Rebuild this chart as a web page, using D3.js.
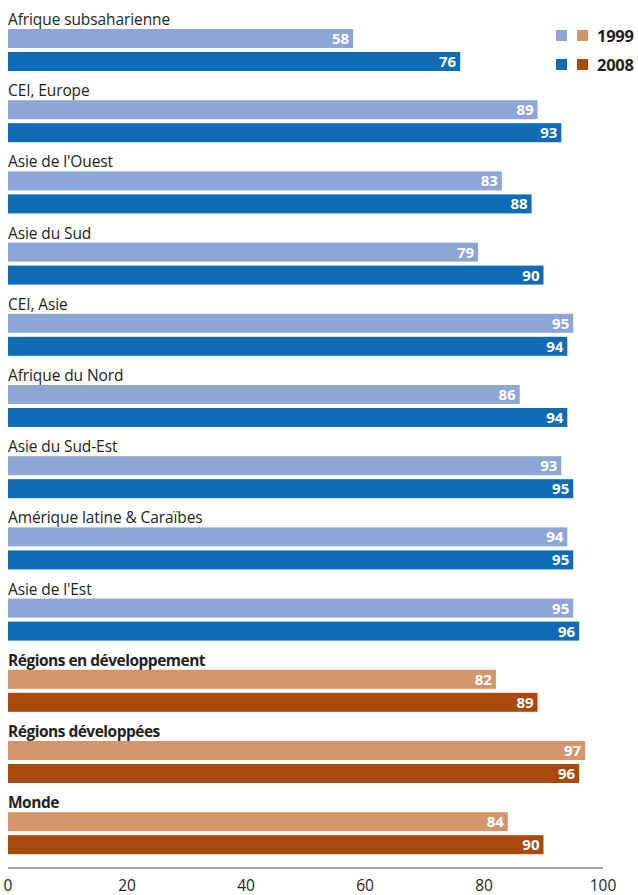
<!DOCTYPE html>
<html>
<head>
<meta charset="utf-8">
<script src="https://cdn.jsdelivr.net/npm/d3@7"></script>
<style>
  body { margin: 0; background: #fff; }
  text { font-family: "Open Sans", "Noto Sans", sans-serif; }
</style>
</head>
<body>
<div id="chart"></div>
<script>
var regions = ["Afrique subsaharienne", "CEI, Europe", "Asie de l'Ouest", "Asie du Sud", "CEI, Asie",
  "Afrique du Nord", "Asie du Sud-Est", "Amérique latine & Caraïbes", "Asie de l'Est",
  "Régions en développement", "Régions développées", "Monde"];
var v1999 = [58, 89, 83, 79, 95, 86, 93, 94, 95, 82, 97, 84];
var v2008 = [76, 93, 88, 90, 94, 94, 95, 95, 96, 89, 96, 90];
var aggregates = ["Régions en développement", "Régions développées", "Monde"];
var ticks = [0, 20, 40, 60, 80, 100];

var colors = {
  "1999": "#8ea6d6", "2008": "#0e6bb6",
  "1999agg": "#d3966c", "2008agg": "#a84a0e"
};

var w = 638, h = 895;
var svg = d3.select("#chart").append("svg")
  .attr("width", w)
  .attr("height", h);

var x = d3.scaleLinear().domain([0, 100]).range([8, 603]);

// one band per region, 71px step
var y = d3.scaleBand().domain(regions).range([29, 29 + 71.2 * regions.length]).paddingInner(0).paddingOuter(0);
var barH = 19;

var g = svg.selectAll("g.region")
  .data(regions)
  .enter()
  .append("g")
  .attr("class", "region")
  .attr("transform", function (d) { return "translate(0," + y(d) + ")"; });

g.append("text")
  .text(function (d) { return d; })
  .attr("x", 8)
  .attr("y", -4)
  .attr("font-size", "15.5px")
  .attr("font-weight", function (d) { return aggregates.indexOf(d) >= 0 ? "bold" : "normal"; })
  .attr("letter-spacing", function (d) { return aggregates.indexOf(d) >= 0 ? "-0.5px" : "-0.1px"; })
  .attr("fill", "#231f20");

var series = [["1999", v1999, 0], ["2008", v2008, 23]];

series.forEach(function (s) {
  g.append("rect")
    .attr("x", x(0))
    .attr("y", s[2])
    .attr("height", barH)
    .attr("width", function (d, i) { return x(s[1][i]) - x(0); })
    .attr("fill", function (d) { return aggregates.indexOf(d) >= 0 ? colors[s[0] + "agg"] : colors[s[0]]; });

  g.append("text")
    .text(function (d, i) { return s[1][i]; })
    .attr("x", function (d, i) { return x(s[1][i]) - 4; })
    .attr("y", s[2] + 15)
    .attr("text-anchor", "end")
    .attr("font-size", "15px")
    .attr("font-weight", "bold")
    .attr("fill", "#fff");
});

// axis
var axis = svg.append("g").attr("transform", "translate(0,868)");
axis.append("line")
  .attr("x1", x(0)).attr("x2", x(100))
  .attr("y1", 0).attr("y2", 0)
  .attr("stroke", "#8a8a8a")
  .attr("stroke-width", 1.5);
axis.selectAll("text")
  .data(ticks)
  .enter()
  .append("text")
  .text(function (d) { return d; })
  .attr("x", function (d) { return x(d); })
  .attr("y", 23)
  .attr("text-anchor", "middle")
  .attr("font-size", "15.5px")
  .attr("fill", "#231f20");

// legend
var legend = [["1999", 30], ["2008", 59]];
legend.forEach(function (l) {
  svg.append("rect").attr("x", 556).attr("y", l[1]).attr("width", 11).attr("height", 11).attr("fill", colors[l[0]]);
  svg.append("rect").attr("x", 577).attr("y", l[1]).attr("width", 11).attr("height", 11).attr("fill", colors[l[0] + "agg"]);
  svg.append("text").text(l[0])
    .attr("x", 597).attr("y", l[1] + 12)
    .attr("font-size", "16.5px")
    .attr("font-weight", "bold")
    .attr("letter-spacing", "-0.3px")
    .attr("fill", "#231f20");
});
</script>
</body>
</html>
